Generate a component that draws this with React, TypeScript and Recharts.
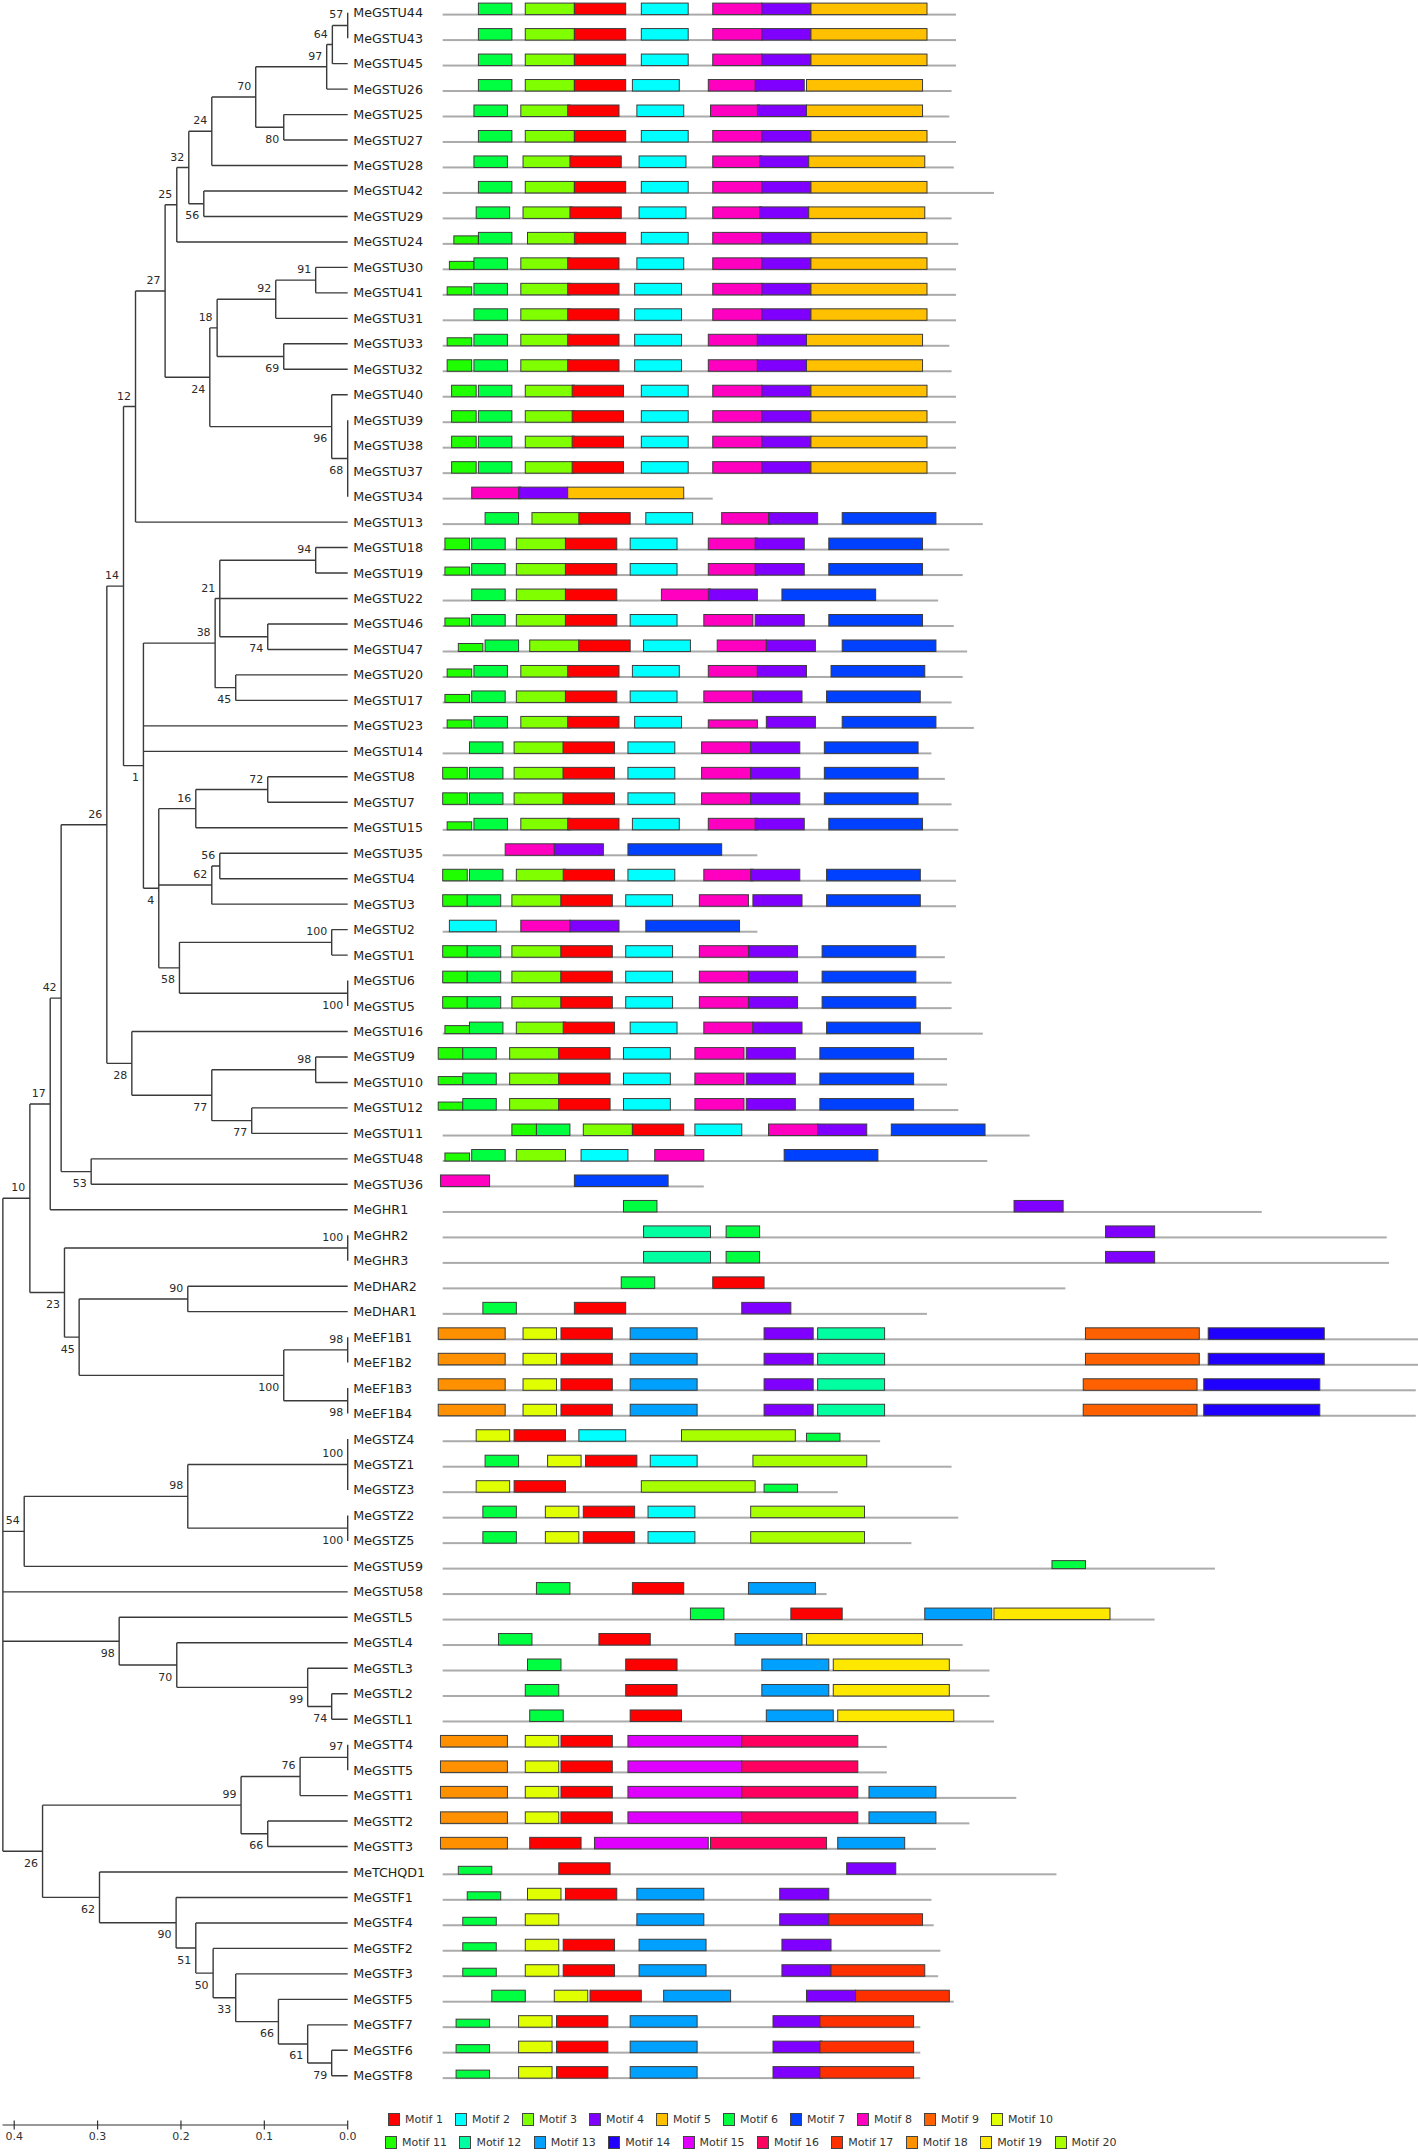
import React from 'react';
import { ComposedChart, Line, Scatter, Bar, XAxis, YAxis } from 'recharts';

const FONT = '"DejaVu Sans", Verdana, sans-serif';

// leaf order, top to bottom
const genes = [
  'MeGSTU44', 'MeGSTU43', 'MeGSTU45', 'MeGSTU26', 'MeGSTU25', 'MeGSTU27', 'MeGSTU28', 'MeGSTU42', 'MeGSTU29', 'MeGSTU24',
  'MeGSTU30', 'MeGSTU41', 'MeGSTU31', 'MeGSTU33', 'MeGSTU32', 'MeGSTU40', 'MeGSTU39', 'MeGSTU38', 'MeGSTU37', 'MeGSTU34',
  'MeGSTU13', 'MeGSTU18', 'MeGSTU19', 'MeGSTU22', 'MeGSTU46', 'MeGSTU47', 'MeGSTU20', 'MeGSTU17', 'MeGSTU23', 'MeGSTU14',
  'MeGSTU8', 'MeGSTU7', 'MeGSTU15', 'MeGSTU35', 'MeGSTU4', 'MeGSTU3', 'MeGSTU2', 'MeGSTU1', 'MeGSTU6', 'MeGSTU5',
  'MeGSTU16', 'MeGSTU9', 'MeGSTU10', 'MeGSTU12', 'MeGSTU11', 'MeGSTU48', 'MeGSTU36', 'MeGHR1', 'MeGHR2', 'MeGHR3',
  'MeDHAR2', 'MeDHAR1', 'MeEF1B1', 'MeEF1B2', 'MeEF1B3', 'MeEF1B4', 'MeGSTZ4', 'MeGSTZ1', 'MeGSTZ3', 'MeGSTZ2',
  'MeGSTZ5', 'MeGSTU59', 'MeGSTU58', 'MeGSTL5', 'MeGSTL4', 'MeGSTL3', 'MeGSTL2', 'MeGSTL1', 'MeGSTT4', 'MeGSTT5',
  'MeGSTT1', 'MeGSTT2', 'MeGSTT3', 'MeTCHQD1', 'MeGSTF1', 'MeGSTF4', 'MeGSTF2', 'MeGSTF3', 'MeGSTF5', 'MeGSTF7',
  'MeGSTF6', 'MeGSTF8',
];

// protein length (aa)
const proteinLength = [
  230, 230, 230, 228, 227, 230, 229, 247, 228, 231,
  230, 230, 230, 227, 228, 230, 230, 230, 230, 121,
  242, 227, 233, 222, 229, 235, 233, 228, 238, 219,
  225, 228, 231, 141, 230, 230, 141, 225, 228, 228,
  242, 226, 226, 231, 263, 244, 117, 367, 423, 424,
  279, 217, 437, 437, 436, 436, 196, 228, 177, 231,
  210, 346, 172, 319, 233, 245, 245, 247, 199, 199,
  257, 236, 221, 275, 219, 220, 223, 222, 229, 214,
  214, 214,
];

// motif:start per gene ("s" = weaker hit, drawn lower)
const motifSites = [
  '6:16 3:37 1:59 2:89 8:121 4:143 5:165',
  '6:16 3:37 1:59 2:89 8:121 4:143 5:165',
  '6:16 3:37 1:59 2:89 8:121 4:143 5:165',
  '6:16 3:37 1:59 2:85 8:119 4:140 5:163',
  '6:14 3:35 1:56 2:87 8:120 4:141 5:163',
  '6:16 3:37 1:59 2:89 8:121 4:143 5:165',
  '6:14 3:36 1:57 2:88 8:121 4:142 5:164',
  '6:16 3:37 1:59 2:89 8:121 4:143 5:165',
  '6:15 3:36 1:57 2:88 8:121 4:142 5:164',
  '11s:5 6:16 3:38 1:59 2:89 8:121 4:143 5:165',
  '11s:3 6:14 3:35 1:56 2:87 8:121 4:143 5:165',
  '11s:2 6:14 3:35 1:56 2:86 8:121 4:143 5:165',
  '6:14 3:35 1:56 2:86 8:121 4:143 5:165',
  '11s:2 6:14 3:35 1:56 2:86 8:119 4:141 5:163',
  '11:2 6:14 3:35 1:56 2:86 8:119 4:141 5:163',
  '11:4 6:16 3:37 1:58 2:89 8:121 4:143 5:165',
  '11:4 6:16 3:37 1:58 2:89 8:121 4:143 5:165',
  '11:4 6:16 3:37 1:58 2:89 8:121 4:143 5:165',
  '11:4 6:16 3:37 1:58 2:89 8:121 4:143 5:165',
  '8:13 4:34 5:56',
  '6:19 3:40 1:61 2:91 8:125 4:146 7:179',
  '11:1 6:13 3:33 1:55 2:84 8:119 4:140 7:173',
  '11s:1 6:13 3:33 1:55 2:84 8:119 4:140 7:173',
  '6:13 3:33 1:55 8:98 4:119 7:152',
  '11s:1 6:13 3:33 1:55 2:84 8:117 4:140 7:173',
  '11s:7 6:19 3:39 1:61 2:90 8:123 4:145 7:179',
  '11s:2 6:14 3:35 1:56 2:85 8:119 4:141 7:174',
  '11s:1 6:13 3:33 1:55 2:84 8:117 4:139 7:172',
  '11s:2 6:14 3:35 1:56 2:86 8s:119 4:145 7:179',
  '6:12 3:32 1:54 2:83 8:116 4:138 7:171',
  '11:0 6:12 3:32 1:54 2:83 8:116 4:138 7:171',
  '11:0 6:12 3:32 1:54 2:83 8:116 4:138 7:171',
  '11s:2 6:14 3:35 1:56 2:85 8:119 4:140 7:173',
  '8:28 4:50 7:83',
  '11:0 6:12 3:33 1:54 2:83 8:117 4:138 7:172',
  '11:0 6:11 3:31 1:53 2:82 8:115 4:139 7:172',
  '2:3 8:35 4:57 7:91',
  '11:0 6:11 3:31 1:53 2:82 8:115 4:137 7:170',
  '11:0 6:11 3:31 1:53 2:82 8:115 4:137 7:170',
  '11:0 6:11 3:31 1:53 2:82 8:115 4:137 7:170',
  '11s:1 6:12 3:33 1:54 2:84 8:117 4:139 7:172',
  '11:-2 6:9 3:30 1:52 2:81 8:113 4:136 7:169',
  '11s:-2 6:9 3:30 1:52 2:81 8:113 4:136 7:169',
  '11s:-2 6:9 3:30 1:52 2:81 8:113 4:136 7:169',
  '11:31 6:42 3:63 1:85 2:113 8:146 4:168 7:201',
  '11s:1 6:13 3:33 2:62 8:95 7:153',
  '8:-1 7:59',
  '6:81 4:256',
  '12:90 6:127 4:297',
  '12:90 6:127 4:297',
  '6:80 1:121',
  '6:18 1:59 4:134',
  '18:-2 10:36 1:53 13:84 4:144 12:168 9:288 14:343',
  '18:-2 10:36 1:53 13:84 4:144 12:168 9:288 14:343',
  '18:-2 10:36 1:53 13:84 4:144 12:168 9:287 14:341',
  '18:-2 10:36 1:53 13:84 4:144 12:168 9:287 14:341',
  '10:15 1:32 2:61 20:107 6s:163',
  '6:19 10:47 1:64 2:93 20:139',
  '10:15 1:32 20:89 6s:144',
  '6:18 10:46 1:63 2:92 20:138',
  '6:18 10:46 1:63 2:92 20:138',
  '6s:273',
  '6:42 1:85 13:137',
  '6:111 1:156 13:216 19:247',
  '6:25 1:70 13:131 19:163',
  '6:38 1:82 13:143 19:175',
  '6:37 1:82 13:143 19:175',
  '6:39 1:84 13:145 19:177',
  '18:-1 10:37 1:53 15:83 16:134',
  '18:-1 10:37 1:53 15:83 16:134',
  '18:-1 10:37 1:53 15:83 16:134 13:191',
  '18:-1 10:37 1:53 15:83 16:134 13:191',
  '18:-1 1:39 15:68 16:120 13:177',
  '6s:7 1:52 4:181',
  '6s:11 10:38 1:55 13:87 4:151',
  '6s:9 10:37 13:87 4:151 17:173',
  '6s:9 10:37 1:54 13:88 4:152',
  '6s:9 10:37 1:54 13:88 4:152 17:174',
  '6:22 10:50 1:66 13:99 4:163 17:185',
  '6s:6 10:34 1:51 13:84 4:148 17:169',
  '6s:6 10:34 1:51 13:84 4:148 17:169',
  '6s:6 10:34 1:51 13:84 4:148 17:169',
];

const motifWidth = [23, 21, 22, 22, 52, 15, 42, 22, 51, 15, 11, 30, 30, 52, 51, 52, 42, 30, 52, 51];
const motifColors = [
  '#FF0000', '#00FFFF', '#80FF00', '#8000FF', '#FFC000', '#00FF40', '#0040FF', '#FF00C0', '#FF6000', '#E0FF00',
  '#20FF00', '#00FFA0', '#00A0FF', '#2000FF', '#E000FF', '#FF0060', '#FF3000', '#FF9000', '#FFE800', '#A8FF00',
];

const scaleTicks = [0.4, 0.3, 0.2, 0.1, 0];

// internal nodes: height (distance), children top->bottom, bootstrap, label above/below
const treeNodes = [
  { id: 'n57', h: 0, kids: ['MeGSTU44', 'MeGSTU43'], boot: '57', side: 'a' },
  { id: 'n64', h: 0.0184, kids: ['n57', 'MeGSTU45'], boot: '64', side: 'a' },
  { id: 'n97', h: 0.0252, kids: ['n64', 'MeGSTU26'], boot: '97', side: 'a' },
  { id: 'n80', h: 0.0767, kids: ['MeGSTU25', 'MeGSTU27'], boot: '80', side: 'b' },
  { id: 'n70', h: 0.1103, kids: ['n97', 'n80'], boot: '70', side: 'a' },
  { id: 'n24a', h: 0.163, kids: ['n70', 'MeGSTU28'], boot: '24', side: 'a' },
  { id: 'n56a', h: 0.1726, kids: ['MeGSTU42', 'MeGSTU29'], boot: '56', side: 'b' },
  { id: 'n32', h: 0.1906, kids: ['n24a', 'n56a'], boot: '32', side: 'a' },
  { id: 'n25', h: 0.205, kids: ['n32', 'MeGSTU24'], boot: '25', side: 'a' },
  { id: 'n91', h: 0.0384, kids: ['MeGSTU30', 'MeGSTU41'], boot: '91', side: 'a' },
  { id: 'n92', h: 0.0863, kids: ['n91', 'MeGSTU31'], boot: '92', side: 'a' },
  { id: 'n69', h: 0.0767, kids: ['MeGSTU33', 'MeGSTU32'], boot: '69', side: 'b' },
  { id: 'n18', h: 0.1566, kids: ['n92', 'n69'], boot: '18', side: 'a' },
  { id: 'n68', h: 0, kids: ['MeGSTU39', 'MeGSTU38', 'MeGSTU37', 'MeGSTU34'], boot: '68', side: 'b' },
  { id: 'n96', h: 0.0192, kids: ['MeGSTU40', 'n68'], boot: '96', side: 'b' },
  { id: 'n24b', h: 0.1654, kids: ['n18', 'n96'], boot: '24', side: 'b' },
  { id: 'n27', h: 0.219, kids: ['n25', 'n24b'], boot: '27', side: 'a' },
  { id: 'n12', h: 0.2545, kids: ['n27', 'MeGSTU13'], boot: '12', side: 'a' },
  { id: 'n94', h: 0.0384, kids: ['MeGSTU18', 'MeGSTU19'], boot: '94', side: 'a' },
  { id: 'n74a', h: 0.0959, kids: ['MeGSTU46', 'MeGSTU47'], boot: '74', side: 'b' },
  { id: 'n21', h: 0.1534, kids: ['n94', 'n74a'], boot: '21', side: 'a' },
  { id: 'n45a', h: 0.1343, kids: ['MeGSTU20', 'MeGSTU17'], boot: '45', side: 'b' },
  { id: 'n38', h: 0.159, kids: ['n21', 'MeGSTU22', 'n45a'], boot: '38', side: 'a' },
  { id: 'n72', h: 0.0959, kids: ['MeGSTU8', 'MeGSTU7'], boot: '72', side: 'a' },
  { id: 'n16', h: 0.1822, kids: ['n72', 'MeGSTU15'], boot: '16', side: 'a' },
  { id: 'n56b', h: 0.1534, kids: ['MeGSTU35', 'MeGSTU4'], boot: '56', side: 'a' },
  { id: 'n62a', h: 0.163, kids: ['n56b', 'MeGSTU3'], boot: '62', side: 'a' },
  { id: 'n100a', h: 0.0192, kids: ['MeGSTU2', 'MeGSTU1'], boot: '100', side: 'a' },
  { id: 'n100b', h: 0, kids: ['MeGSTU6', 'MeGSTU5'], boot: '100', side: 'b' },
  { id: 'n58', h: 0.2018, kids: ['n100a', 'n100b'], boot: '58', side: 'b' },
  { id: 'n4', h: 0.2266, kids: ['n16', 'n62a', 'n58'], boot: '4', side: 'b' },
  { id: 'n1', h: 0.245, kids: ['n38', 'MeGSTU23', 'MeGSTU14', 'n4'], boot: '1', side: 'b' },
  { id: 'n14', h: 0.2689, kids: ['n12', 'n1'], boot: '14', side: 'a' },
  { id: 'n98a', h: 0.0384, kids: ['MeGSTU9', 'MeGSTU10'], boot: '98', side: 'a' },
  { id: 'n77b', h: 0.1151, kids: ['MeGSTU12', 'MeGSTU11'], boot: '77', side: 'b' },
  { id: 'n77a', h: 0.163, kids: ['n98a', 'n77b'], boot: '77', side: 'b' },
  { id: 'n28', h: 0.2589, kids: ['MeGSTU16', 'n77a'], boot: '28', side: 'b' },
  { id: 'n26a', h: 0.2889, kids: ['n14', 'n28'], boot: '26', side: 'a' },
  { id: 'n53', h: 0.3077, kids: ['MeGSTU48', 'MeGSTU36'], boot: '53', side: 'b' },
  { id: 'n42', h: 0.3437, kids: ['n26a', 'n53'], boot: '42', side: 'a' },
  { id: 'n17', h: 0.3568, kids: ['n42', 'MeGHR1'], boot: '17', side: 'a' },
  { id: 'n100c', h: 0, kids: ['MeGHR2', 'MeGHR3'], boot: '100', side: 'a' },
  { id: 'n90a', h: 0.1918, kids: ['MeDHAR2', 'MeDHAR1'], boot: '90', side: 'a' },
  { id: 'n98b', h: 0, kids: ['MeEF1B1', 'MeEF1B2'], boot: '98', side: 'a' },
  { id: 'n98c', h: 0, kids: ['MeEF1B3', 'MeEF1B4'], boot: '98', side: 'b' },
  { id: 'n100d', h: 0.0767, kids: ['n98b', 'n98c'], boot: '100', side: 'b' },
  { id: 'n45b', h: 0.3221, kids: ['n90a', 'n100d'], boot: '45', side: 'b' },
  { id: 'n23', h: 0.3397, kids: ['n100c', 'n45b'], boot: '23', side: 'b' },
  { id: 'n10', h: 0.3812, kids: ['n17', 'n23'], boot: '10', side: 'a' },
  { id: 'n100e', h: 0, kids: ['MeGSTZ4', 'MeGSTZ1', 'MeGSTZ3'], boot: '100', side: 'a' },
  { id: 'n100f', h: 0, kids: ['MeGSTZ2', 'MeGSTZ5'], boot: '100', side: 'b' },
  { id: 'n98d', h: 0.1918, kids: ['n100e', 'n100f'], boot: '98', side: 'a' },
  { id: 'n54', h: 0.388, kids: ['n98d', 'MeGSTU59'], boot: '54', side: 'a' },
  { id: 'n74b', h: 0.0192, kids: ['MeGSTL2', 'MeGSTL1'], boot: '74', side: 'b' },
  { id: 'n99a', h: 0.048, kids: ['MeGSTL3', 'n74b'], boot: '99', side: 'b' },
  { id: 'n70b', h: 0.205, kids: ['MeGSTL4', 'n99a'], boot: '70', side: 'b' },
  { id: 'n98e', h: 0.2741, kids: ['MeGSTL5', 'n70b'], boot: '98', side: 'b' },
  { id: 'n97b', h: 0, kids: ['MeGSTT4', 'MeGSTT5'], boot: '97', side: 'a' },
  { id: 'n76', h: 0.0571, kids: ['n97b', 'MeGSTT1'], boot: '76', side: 'a' },
  { id: 'n66a', h: 0.0959, kids: ['MeGSTT2', 'MeGSTT3'], boot: '66', side: 'b' },
  { id: 'n99b', h: 0.1279, kids: ['n76', 'n66a'], boot: '99', side: 'a' },
  { id: 'n79', h: 0.0192, kids: ['MeGSTF6', 'MeGSTF8'], boot: '79', side: 'b' },
  { id: 'n61', h: 0.048, kids: ['MeGSTF7', 'n79'], boot: '61', side: 'b' },
  { id: 'n66b', h: 0.0831, kids: ['MeGSTF5', 'n61'], boot: '66', side: 'b' },
  { id: 'n33', h: 0.1343, kids: ['MeGSTF3', 'n66b'], boot: '33', side: 'b' },
  { id: 'n50', h: 0.1614, kids: ['MeGSTF2', 'n33'], boot: '50', side: 'b' },
  { id: 'n51', h: 0.1822, kids: ['MeGSTF4', 'n50'], boot: '51', side: 'b' },
  { id: 'n90b', h: 0.2058, kids: ['MeGSTF1', 'n51'], boot: '90', side: 'b' },
  { id: 'n62b', h: 0.2977, kids: ['MeTCHQD1', 'n90b'], boot: '62', side: 'b' },
  { id: 'n26b', h: 0.366, kids: ['n99b', 'n62b'], boot: '26', side: 'b' },
  { id: 'root', h: 0.4136, kids: ['n10', 'n54', 'MeGSTU58', 'n98e', 'n26b'], boot: '', side: 'a' },
];

// ---- layout constants (pixels) ----
const W = 1418;
const ROW = 25.47;
const TOP = 12.7;
const AXIS_Y = 2125;
const TREE_RIGHT = 347.7;
const TREE_MAX = 0.414;
const PX_PER_UNIT = 833.75;
const TREE_W = 440;
const MOTIF_LEFT = 436;
const BAR = 14;

// ---- tree geometry ----
const rowOf = new Map(genes.map((g, i) => [g, i]));
const nodeById = new Map(treeNodes.map((n) => [n.id, n]));
const posCache = new Map<string, { x: number; y: number }>();
function nodePos(id: string): { x: number; y: number } {
  if (rowOf.has(id)) return { x: 0, y: rowOf.get(id) as number };
  const c = posCache.get(id);
  if (c) return c;
  const n = nodeById.get(id)!;
  const ys = n.kids.map((k) => nodePos(k).y);
  const p = { x: n.h, y: (Math.min(...ys) + Math.max(...ys)) / 2 };
  posCache.set(id, p);
  return p;
}

const branchPoints: { x: number; y: number | null }[] = [];
treeNodes.forEach((n) => {
  const p = nodePos(n.id);
  const ys = n.kids.map((k) => nodePos(k).y);
  branchPoints.push({ x: p.x, y: Math.min(...ys) }, { x: p.x, y: Math.max(...ys) }, { x: p.x, y: null });
  n.kids.forEach((k) => {
    const c = nodePos(k);
    branchPoints.push({ x: p.x, y: c.y }, { x: c.x, y: c.y }, { x: c.x, y: null });
  });
});

const leafPoints = genes.map((g, i) => ({ x: 0, y: i, name: g }));
const bootPoints = treeNodes
  .filter((n) => n.boot)
  .map((n) => ({ ...nodePos(n.id), boot: n.boot, side: n.side }));

// ---- motif rows ----
const rows = genes.map((name, i) => {
  const motifs = motifSites[i].split(' ').map((tok) => {
    const [id, s] = tok.split(':');
    return { motif: parseInt(id, 10), start: Number(s), short: id.endsWith('s') };
  });
  return { name, len: proteinLength[i], first: Math.min(0, ...motifs.map((m) => m.start)), motifs };
});
const slots = [0, 1, 2, 3, 4, 5, 6, 7];

const LeafLabel = (props: any) => (
  <text x={props.cx + 5.5} y={props.cy} dominantBaseline="central" fontFamily={FONT} fontSize={12.7} fill="#1e1e1e">
    {props.payload.name}
  </text>
);

const BootLabel = (props: any) => (
  <text
    x={props.cx - 4.5}
    y={props.cy + (props.payload.side === 'a' ? -10.5 : 12)}
    textAnchor="end"
    dominantBaseline="central"
    fontFamily={FONT}
    fontSize={11}
    fill="#2a2a2a"
  >
    {props.payload.boot}
  </text>
);

const ScaleTick = (props: any) => {
  const { x, y, payload } = props;
  return (
    <g>
      <line x1={x} x2={x} y1={y - 4.5} y2={y + 4.5} stroke="#333" strokeWidth={1.2} />
      <text x={x} y={y + 11} textAnchor="middle" dominantBaseline="central" fontFamily={FONT} fontSize={11} fill="#333">
        {Number(payload.value).toFixed(1)}
      </text>
    </g>
  );
};

const ProteinLine = (props: any) => {
  const { x, y, width, height } = props;
  if (!(width > 0)) return null;
  const mid = y + height / 2;
  return <rect x={x} y={mid + 0.6} width={width} height={2} fill="#ababab" />;
};

const MotifBox = (props: any) => {
  const { x, y, width, height, index, slot } = props;
  const m = rows[index]?.motifs[slot];
  if (!m || !(width > 0)) return null;
  const mid = y + height / 2;
  const h = m.short ? 8 : 11.5;
  return (
    <rect
      x={x}
      y={mid + 1.6 - h}
      width={width}
      height={h}
      fill={motifColors[m.motif - 1]}
      stroke="#3c3c3c"
      strokeWidth={1}
    />
  );
};

const legendRows = [
  { left: 388, top: 2112, step: 67, ids: [1, 2, 3, 4, 5, 6, 7, 8, 9, 10] },
  { left: 385, top: 2135, step: 74.4, ids: [11, 12, 13, 14, 15, 16, 17, 18, 19, 20] },
];

const App = () => {
  const treeH = 2153;
  const motifH = Math.round(genes.length * ROW);
  return (
    <div style={{ position: 'absolute', left: 0, top: 0, width: W, height: 2153, background: '#fff', overflow: 'hidden' }}>
      <div style={{ position: 'absolute', left: 0, top: 0 }}>
        <ComposedChart
          width={W}
          height={motifH}
          data={rows}
          layout="vertical"
          margin={{ top: 0, right: 0, bottom: 0, left: MOTIF_LEFT }}
          barGap={-BAR}
          barCategoryGap={0}
        >
          <XAxis type="number" domain={[-3, 437]} hide allowDataOverflow />
          <YAxis type="category" dataKey="name" hide />
          <Bar dataKey={(r: any) => [r.first, r.len]} barSize={BAR} shape={<ProteinLine />} isAnimationActive={false} />
          {slots.map((k) => (
            <Bar
              key={k}
              dataKey={(r: any) => {
                const m = r.motifs[k];
                return m ? [m.start, m.start + motifWidth[m.motif - 1]] : [0, 0];
              }}
              barSize={BAR}
              shape={(p: any) => <MotifBox {...p} slot={k} />}
              isAnimationActive={false}
            />
          ))}
        </ComposedChart>
      </div>
      <div style={{ position: 'absolute', left: 0, top: 0 }}>
        <ComposedChart
          width={TREE_W}
          height={treeH}
          margin={{ top: TOP, right: TREE_W - TREE_RIGHT, bottom: 0, left: TREE_RIGHT - TREE_MAX * PX_PER_UNIT }}
        >
          <XAxis
            type="number"
            dataKey="x"
            domain={[0, TREE_MAX]}
            reversed
            ticks={scaleTicks}
            interval={0}
            height={treeH - AXIS_Y}
            tickSize={0}
            tickMargin={0}
            tickLine={false}
            axisLine={{ stroke: '#333', strokeWidth: 1.2 }}
            tick={<ScaleTick />}
          />
          <YAxis type="number" dataKey="y" domain={[0, (AXIS_Y - TOP) / ROW]} reversed hide />
          <Line
            data={branchPoints}
            dataKey="y"
            type="linear"
            stroke="#3a3a3a"
            strokeWidth={1.4}
            dot={false}
            activeDot={false}
            connectNulls={false}
            isAnimationActive={false}
          />
          <Scatter data={leafPoints} dataKey="y" shape={<LeafLabel />} isAnimationActive={false} />
          <Scatter data={bootPoints} dataKey="y" shape={<BootLabel />} isAnimationActive={false} />
        </ComposedChart>
      </div>
      {legendRows.map((lr, ri) => (
        <div key={ri} style={{ position: 'absolute', left: lr.left, top: lr.top, display: 'flex' }}>
          {lr.ids.map((id) => (
            <div key={id} style={{ width: lr.step, display: 'flex', alignItems: 'center', height: 14 }}>
              <span
                style={{
                  display: 'inline-block',
                  width: 12,
                  height: 13,
                  background: motifColors[id - 1],
                  border: '1px solid #444',
                  marginRight: 5,
                  boxSizing: 'border-box',
                }}
              />
              <span style={{ fontFamily: FONT, fontSize: 11, color: '#333', whiteSpace: 'nowrap' }}>Motif {id}</span>
            </div>
          ))}
        </div>
      ))}
    </div>
  );
};

export default App;
